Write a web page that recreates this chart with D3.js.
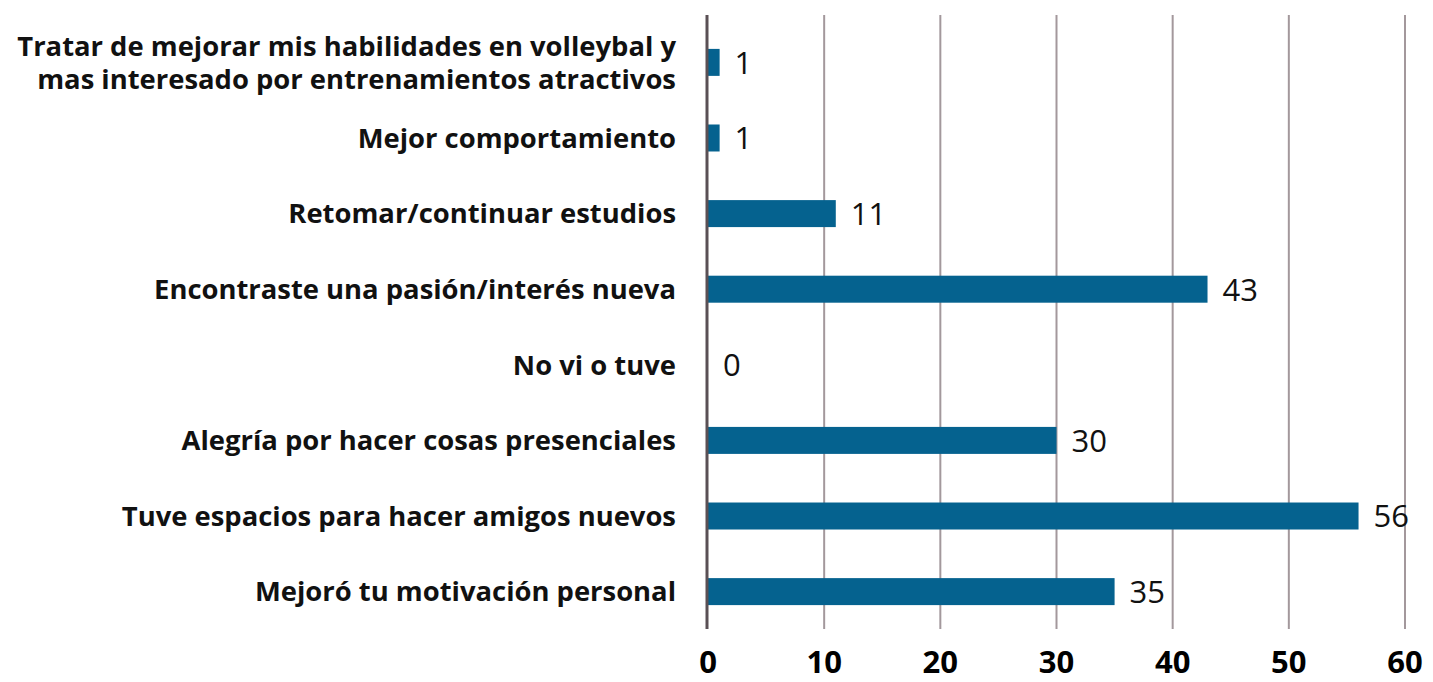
<!DOCTYPE html>
<html><head><meta charset="utf-8">
<script src="https://cdn.jsdelivr.net/npm/d3@7"></script>
<style>body{margin:0;background:#fff;} svg{display:block;}</style>
</head><body>
<svg id="chart" width="1433" height="682"></svg>
<script>
const categories = [
  ["Tratar de mejorar mis habilidades en volleybal y", "mas interesado por entrenamientos atractivos"],
  ["Mejor comportamiento"],
  ["Retomar/continuar estudios"],
  ["Encontraste una pasión/interés nueva"],
  ["No vi o tuve"],
  ["Alegría por hacer cosas presenciales"],
  ["Tuve espacios para hacer amigos nuevos"],
  ["Mejoró tu motivación personal"]
];
const values = [1, 1, 11, 43, 0, 30, 56, 35];
const tickValues = [0, 10, 20, 30, 40, 50, 60];

const svg = d3.select("#chart");
const x = d3.scaleLinear().domain([0, 60]).range([708, 1405]);
const y = d3.scaleBand().domain(d3.range(categories.length)).range([24.7, 629.3]).paddingInner(0.643).paddingOuter(0.32);

// gridlines
svg.append("g").selectAll("line").data(tickValues.slice(1)).join("line")
  .attr("x1", d => x(d)).attr("x2", d => x(d))
  .attr("y1", 15).attr("y2", 629)
  .attr("stroke", "#a3989c").attr("stroke-width", 2);

// bars
svg.append("g").selectAll("rect").data(values).join("rect")
  .attr("x", x(0)).attr("y", (d, i) => y(i))
  .attr("width", d => x(d) - x(0)).attr("height", y.bandwidth())
  .attr("fill", "#05628f");

// axis line
svg.append("line").attr("x1", x(0) - 1).attr("x2", x(0) - 1).attr("y1", 15).attr("y2", 629)
  .attr("stroke", "#5a5055").attr("stroke-width", 3);

// value labels
svg.append("g").selectAll("text").data(values).join("text")
  .attr("x", d => x(d) + 15).attr("y", (d, i) => y(i) + y.bandwidth() / 2)
  .attr("dy", "0.37em")
  .attr("font-family", "Open Sans, sans-serif").attr("font-size", 31)
  .attr("fill", "#111").text(d => d);

// category labels
const cat = svg.append("g").selectAll("text").data(categories).join("text")
  .attr("text-anchor", "end")
  .attr("font-family", "Open Sans, sans-serif").attr("font-weight", "bold")
  .attr("font-size", 27.4).attr("fill", "#111");
cat.each(function(lines, i) {
  const cy = y(i) + y.bandwidth() / 2;
  const lh = 33;
  const t = d3.select(this);
  lines.forEach((ln, j) => {
    t.append("tspan").attr("x", 676)
      .attr("y", cy + (j - (lines.length - 1) / 2) * lh)
      .attr("dy", "0.36em").text(ln);
  });
});

// x tick labels
svg.append("g").selectAll("text").data(tickValues).join("text")
  .attr("x", d => x(d)).attr("y", 673)
  .attr("text-anchor", "middle")
  .attr("font-family", "Open Sans, sans-serif").attr("font-weight", "bold")
  .attr("font-size", 31).attr("fill", "#000").text(d => d);
</script>
</body></html>
